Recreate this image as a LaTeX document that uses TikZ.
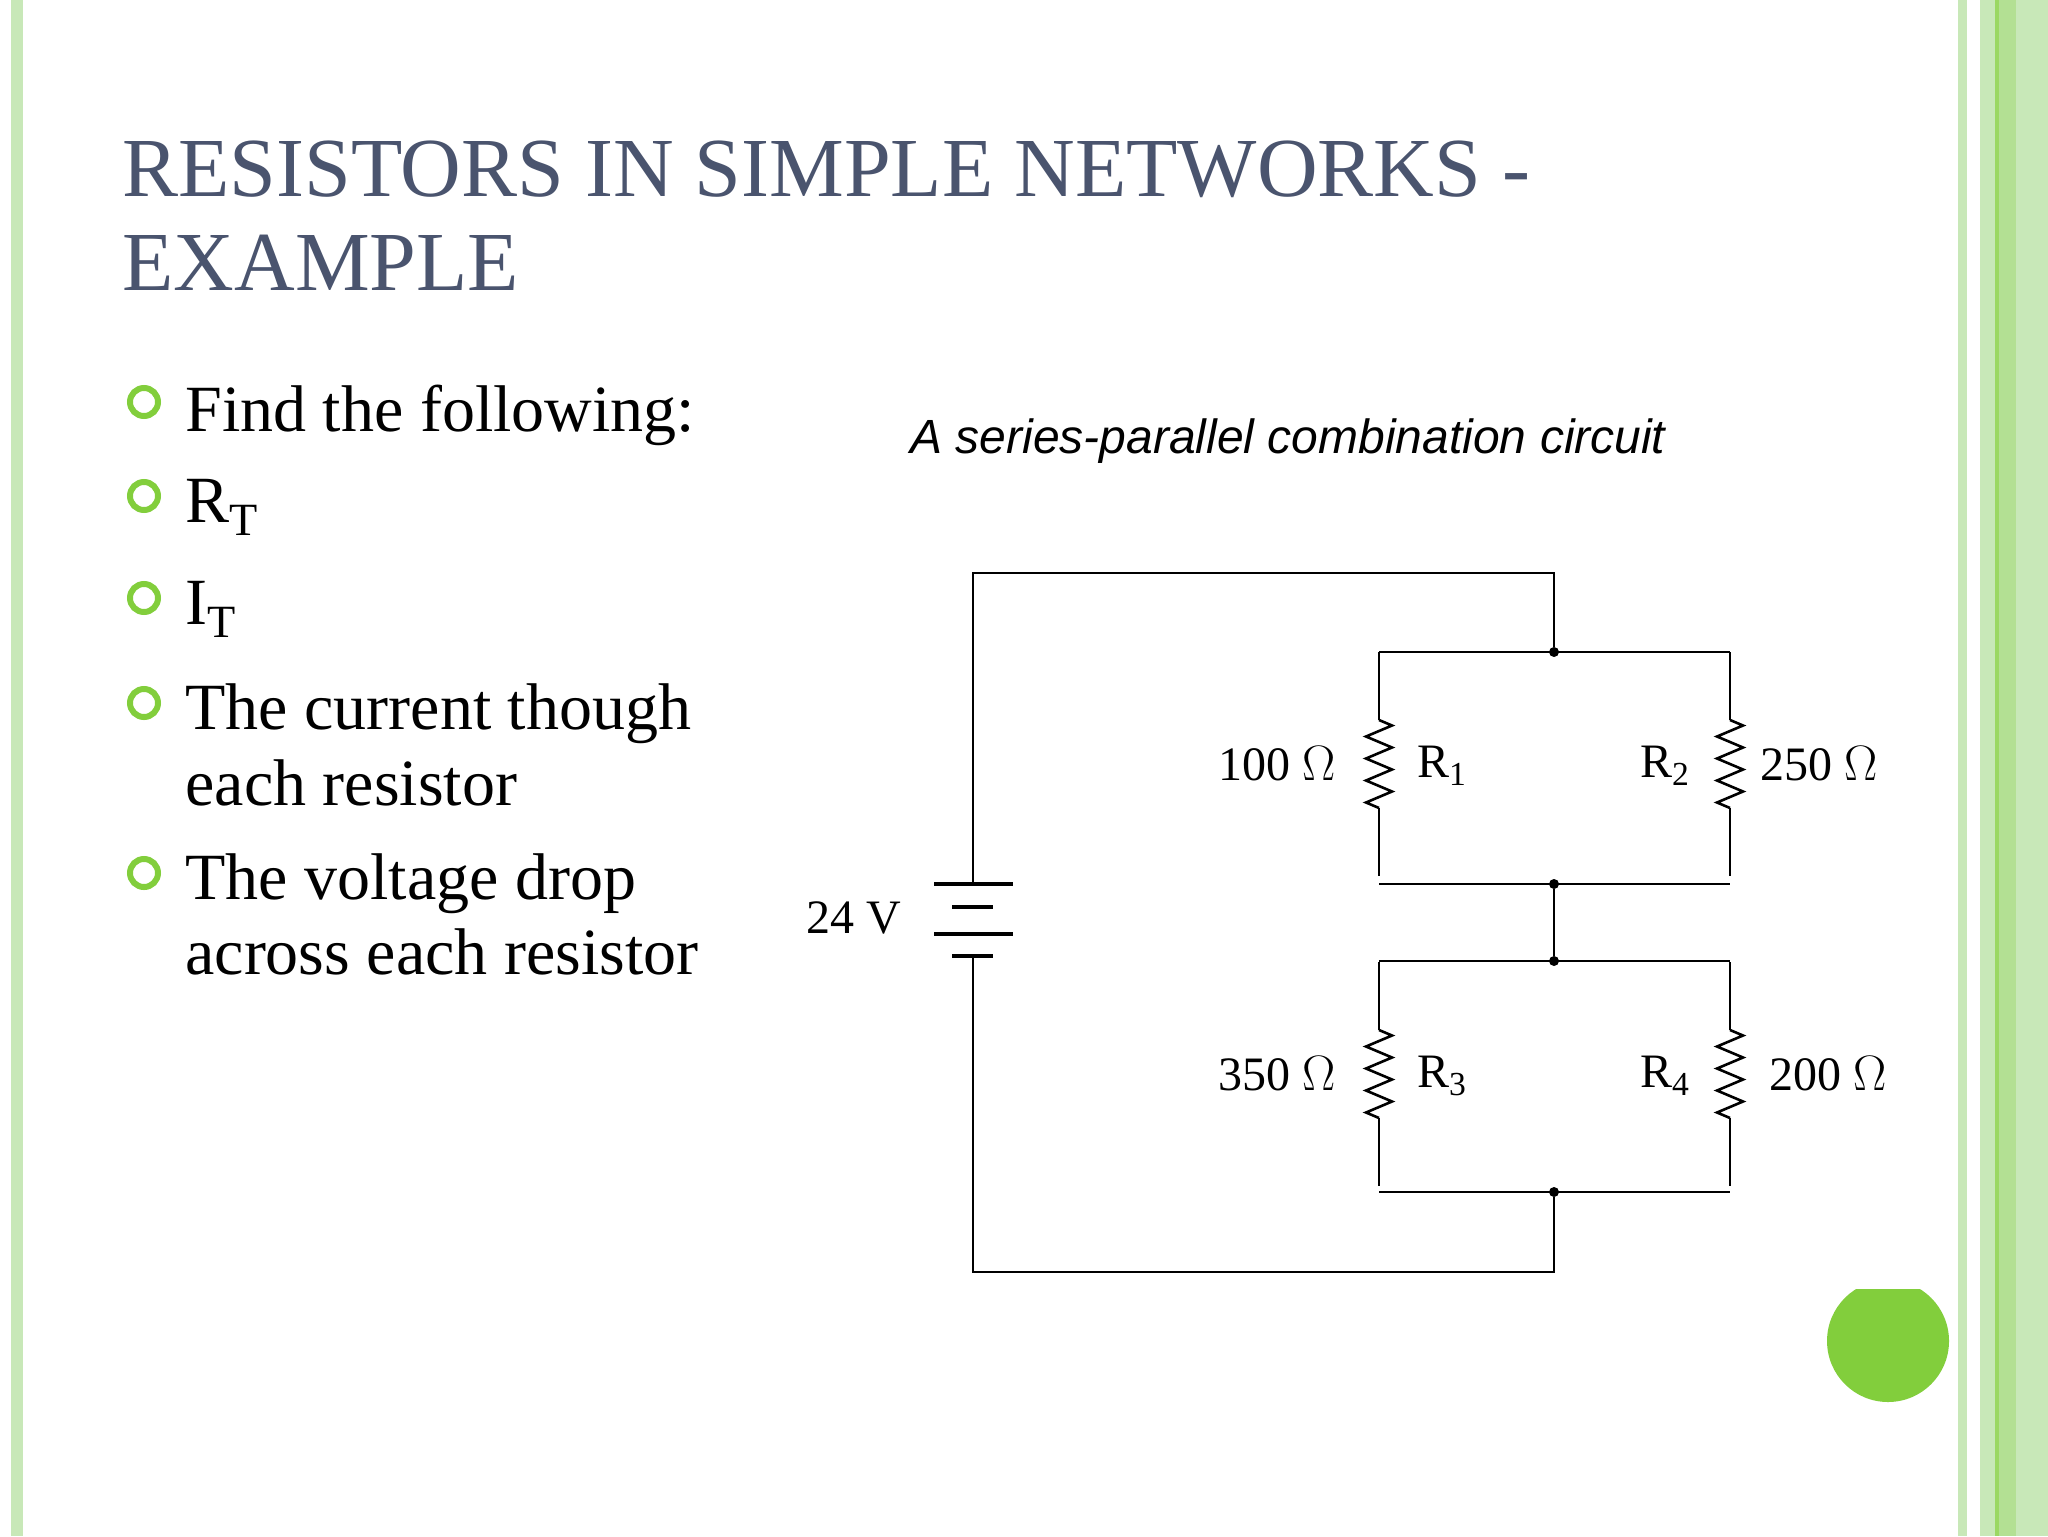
\documentclass[tikz,border=0pt]{standalone}
\usepackage{fontspec}
\setmainfont{Liberation Serif}
\newfontfamily\capfont{Liberation Sans}
\usetikzlibrary{decorations.pathmorphing}
\definecolor{titlec}{RGB}{74,84,110}
\definecolor{lg}{RGB}{200,232,184}
\definecolor{gg}{RGB}{130,206,60}
\begin{document}
\begin{tikzpicture}[x=0.5pt,y=-0.5pt,
  wire/.style={line width=1.3pt},
  res/.style={line width=1.3pt,decorate,decoration={zigzag,segment length=11pt,amplitude=6.5pt,pre length=0pt,post length=0pt}},
  lab/.style={font=\fontsize{24}{24}\selectfont,inner sep=0pt},
  item/.style={anchor=base west,font=\fontsize{33}{36}\selectfont,inner sep=0pt,align=left},
  bul/.style={draw=gg,line width=3pt,circle,minimum size=14pt,inner sep=0pt},
  dot/.style={circle,fill,inner sep=0pt,minimum size=5pt}]
\useasboundingbox (0,0) rectangle (2048,1536);
\fill[white] (0,0) rectangle (2048,1536);
% borders
\fill[lg] (11,0) rectangle (23,1536);
\fill[lg] (1958,0) rectangle (1967,1536);
\fill[lg] (1980,0) rectangle (2048,1536);
\fill[gg!80] (1995,0) rectangle (1999,1536);
\fill[lg!70!gg] (1999,0) rectangle (2016,1536);
\fill[lg] (2016,0) rectangle (2048,1536);
% circle
\begin{scope}
\clip (1800,1289) rectangle (1960,1420);
\fill[gg] (1888,1341) circle (61);
\end{scope}
% title
\node[anchor=base west,inner sep=0pt,text=titlec,font=\fontsize{42}{48}\selectfont] (t1) at (122,196) {RESISTORS IN SIMPLE NETWORKS -};
\node[anchor=base west,inner sep=0pt,text=titlec,font=\fontsize{42}{48}\selectfont] (t2) at (122,290) {EXAMPLE};
% bullets
\foreach \y/\n in {402/b1,496/b2,598/b3,703/b4,873/b5}
  \node[bul] (\n) at (144,\y) {};
\node[item] (i1) at (185,431) {Find the following:};
\node[item] (i2) at (185,522) {R\textsubscript{T}};
\node[item] (i3) at (185,624) {I\textsubscript{T}};
\node[item] (i4) at (185,729) {The current though};
\node[item] (i4b) at (185,805) {each resistor};
\node[item] (i5) at (185,899) {The voltage drop};
\node[item] (i5b) at (185,974) {across each resistor};
% caption
\node[font=\capfont\itshape\fontsize{24}{24}\selectfont,inner sep=0pt] (cap) at (1288,441) {A series-parallel combination circuit};
% circuit coordinates
\coordinate (tl) at (973,573); \coordinate (tr) at (1554,573);
\coordinate (bl) at (973,1272); \coordinate (br) at (1554,1272);
\node[dot] (n1) at (1554,652) {};
\node[dot] (n2) at (1554,884) {};
\node[dot] (n3) at (1554,961) {};
\node[dot] (n4) at (1554,1192) {};
\coordinate (a1) at (1379,652); \coordinate (a2) at (1730,652);
\coordinate (a3) at (1379,884); \coordinate (a4) at (1730,884);
\coordinate (c1) at (1379,961); \coordinate (c2) at (1730,961);
\coordinate (c3) at (1379,1192); \coordinate (c4) at (1730,1192);
\coordinate (bt) at (973,884); \coordinate (bb) at (973,956);
\draw[wire] (bt) -- (tl) -- (tr) -- (n1);
\draw[wire] (bb) -- (bl) -- (br) -- (n4);
\draw[wire] (a1) -- (a2); \draw[wire] (a3) -- (a4);
\draw[wire] (c1) -- (c2); \draw[wire] (c3) -- (c4);
\draw[wire] (n2) -- (n3);
\foreach \x/\yc in {1379/764,1730/764,1379/1074,1730/1074}{
  \draw[wire] (\x,\yc-112) -- (\x,\yc-44);
  \draw[res] (\x,\yc-44) -- (\x,\yc+44);
  \draw[wire] (\x,\yc+44) -- (\x,\yc+112);
}
% battery
\draw[line width=1.8pt] (934,884) -- (1013,884);
\draw[line width=1.8pt] (952,907) -- (993,907);
\draw[line width=2.2pt] (934,934) -- (1013,934);
\draw[line width=1.8pt] (952,956) -- (993,956);
% labels
\node[lab] (v) at (854,918) {24 V};
\node[lab] (l1) at (1277,764) {100 $\Omega$};
\node[lab] (r1) at (1442,766) {R\textsubscript{1}};
\node[lab] (r2) at (1665,766) {R\textsubscript{2}};
\node[lab] (l2) at (1819,764) {250 $\Omega$};
\node[lab] (l3) at (1277,1074) {350 $\Omega$};
\node[lab] (r3) at (1442,1076) {R\textsubscript{3}};
\node[lab] (r4) at (1665,1076) {R\textsubscript{4}};
\node[lab] (l4) at (1828,1074) {200 $\Omega$};
\end{tikzpicture}
\end{document}
